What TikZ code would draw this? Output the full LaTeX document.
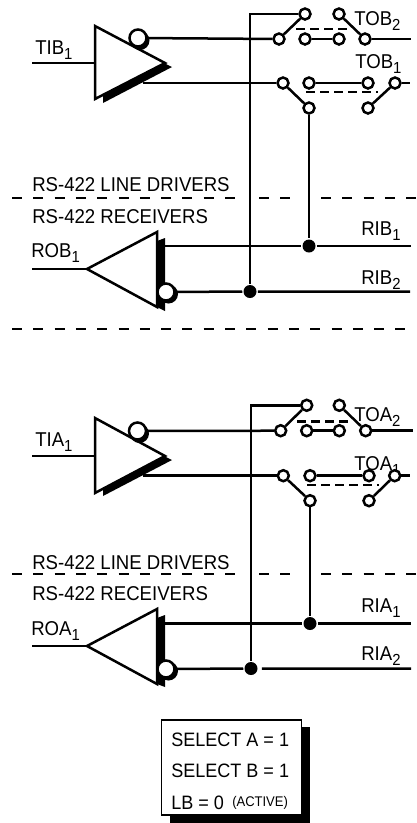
\documentclass[tikz,border=0pt]{standalone}
\usepackage{fontspec}
\setmainfont[FakeStretch=0.93]{Liberation Sans}
\usepackage{tikz}
\newcommand{\lowidx}[1]{\raisebox{-5pt}{\fontsize{16}{16}\selectfont #1}}

\begin{document}
\begin{tikzpicture}[x=1pt, y=-1pt, line width=2.5pt]
    \tikzstyle{contact}=[circle, draw=black, fill=white, line width=2.5pt, minimum size=11pt, inner sep=0pt];
    \tikzstyle{bubble}=[circle, draw=black, fill=white, line width=2.5pt, minimum size=17pt, inner sep=0pt];
    \tikzstyle{bubbleshadow}=[circle, fill=black, minimum size=19pt, inner sep=0pt];
    \tikzstyle{junction}=[circle, fill=black, minimum size=13pt, inner sep=0pt];
    \tikzstyle{label}=[anchor=base west, inner sep=0pt, font=\fontsize{20}{22}\selectfont];
    \tikzstyle{boxlabel}=[anchor=base west, inner sep=0pt, font=\fontsize{19.4}{22}\selectfont];
    \tikzstyle{divider}=[line width=1.7pt, dash pattern=on 10pt off 11.3pt];
    \tikzstyle{gang}=[line width=2.6pt, dash pattern=on 8.5pt off 5.5pt];

    \useasboundingbox (0, 0) rectangle (416, 823);

    % channel B, driver
    \coordinate (tibin) at (32, 63);
    \coordinate (tiba) at (95, 26);
    \coordinate (tibb) at (95, 99);
    \coordinate (tibc) at (165, 63);
    \coordinate (tibout) at (143, 83);
    \fill (103, 103) -- (172, 67) -- (164, 63) -- (103, 95) -- cycle;
    \draw[fill=white] (tiba) -- (tibb) -- (tibc) -- cycle;
    \draw (tibin) -- (95, 63);
    \node[bubbleshadow] (tibs) at (140, 40.5) {};
    \node[bubble] (tibn) at (138, 38) {};

    \node[label] (ltob2) at (353, 25) {TOB\lowidx{2}};
    \node[label] (ltob1) at (354, 68) {TOB\lowidx{1}};

    \node[contact] (b1) at (305, 14) {};
    \node[contact] (b2) at (339, 14) {};
    \node[contact] (b3) at (279, 39) {};
    \node[contact] (b4) at (305, 39) {};
    \node[contact] (b5) at (339, 39) {};
    \node[contact] (b6) at (365, 39) {};
    \node[contact] (b7) at (283, 83) {};
    \node[contact] (b8) at (309, 83) {};
    \node[contact] (b9) at (368, 83) {};
    \node[contact] (b10) at (395, 83) {};
    \node[contact] (b11) at (309, 108) {};
    \node[contact] (b12) at (368, 108) {};

    % channel B, receiver
    \coordinate (robin) at (32, 269);
    \coordinate (roba) at (87, 269);
    \coordinate (robb) at (157, 232);
    \coordinate (robc) at (157, 307);
    \fill (157, 241) -- (165, 238) -- (165, 311) -- (157, 307) -- cycle;
    \draw[fill=white] (roba) -- (robb) -- (robc) -- cycle;
    \draw (robin) -- (roba);
    \node[bubbleshadow] (robs) at (168.5, 294) {};
    \node[bubble] (robn) at (166, 292) {};
    \node[junction] (j1) at (309, 246) {};
    \node[junction] (j2) at (250, 291.5) {};
    \coordinate (bcorner) at (250, 14);
    \coordinate (bout1) at (411, 39);
    \coordinate (bout2) at (410, 83);
    \coordinate (rib1) at (411, 246);
    \coordinate (rib2) at (410, 291.5);

    \draw (tibn) -- (b3);
    \draw (tibout) -- (b7);
    \draw (j2) -- (bcorner) -- (b1);
    \draw (b3) -- (b1);
    \draw (b2) -- (b6);
    \draw (b4) -- (b5);
    \draw (b6) -- (bout1);
    \draw (b7) -- (b11);
    \draw (b8) -- (b9);
    \draw (b12) -- (b10);
    \draw (b10) -- (bout2);
    \draw (b11) -- (j1);
    \draw (165, 246) -- (j1) -- (rib1);
    \draw (robn) -- (j2) -- (rib2);
    \draw[gang] (296, 29) -- (350, 29);
    \draw[gang] (306, 92) -- (378, 92);

    \draw[divider] (12, 198) -- (236, 198);
    \draw[divider] (259, 198) -- (292, 198);
    \draw[divider] (321, 198) -- (416, 198);
    \draw[divider] (12, 329) -- (407, 329);

    \node[label] (ltib) at (34, 54) {TIB\lowidx{1}};
    \node[label] (ldrvb) at (31, 191.7) {RS-422 LINE DRIVERS};
    \node[label] (lrcvb) at (31, 223) {RS-422 RECEIVERS};
    \node[label] (lrob) at (30, 257.7) {ROB\lowidx{1}};
    \node[label] (lrib1) at (360, 235) {RIB\lowidx{1}};
    \node[label] (lrib2) at (360, 284) {RIB\lowidx{2}};

    % channel A, driver
    \coordinate (tiain) at (32, 456);
    \coordinate (tiaa) at (95, 418);
    \coordinate (tiab) at (95, 493);
    \coordinate (tiac) at (165, 456);
    \coordinate (tiaout) at (143, 475.7);
    \fill (103, 496) -- (172, 460) -- (164, 456) -- (103, 488) -- cycle;
    \draw[fill=white] (tiaa) -- (tiab) -- (tiac) -- cycle;
    \draw (tiain) -- (95, 456);
    \node[bubbleshadow] (tias) at (139.5, 433.5) {};
    \node[bubble] (tian) at (137.5, 431) {};

    \node[label] (ltoa2) at (353, 421.7) {TOA\lowidx{2}};
    \node[label] (ltoa1) at (353, 470) {TOA\lowidx{1}};

    \node[contact] (a1) at (306.7, 405.3) {};
    \node[contact] (a2) at (339.3, 405.3) {};
    \node[contact] (a3) at (280.7, 430.7) {};
    \node[contact] (a4) at (306.7, 430.7) {};
    \node[contact] (a5) at (339.3, 430.7) {};
    \node[contact] (a6) at (365.7, 430.7) {};
    \node[contact] (a7) at (283.3, 475.7) {};
    \node[contact] (a8) at (310, 475.7) {};
    \node[contact] (a9) at (369, 475.7) {};
    \node[contact] (a10) at (394.7, 475.7) {};
    \node[contact] (a11) at (310, 500.7) {};
    \node[contact] (a12) at (369, 500.7) {};

    % channel A, receiver
    \coordinate (roain) at (32, 646);
    \coordinate (roaa) at (87, 646);
    \coordinate (roab) at (157, 609);
    \coordinate (roac) at (157, 684);
    \fill (157, 618) -- (165, 615) -- (165, 687) -- (157, 684) -- cycle;
    \draw[fill=white] (roaa) -- (roab) -- (roac) -- cycle;
    \draw (roain) -- (roaa);
    \node[bubbleshadow] (roas) at (168.5, 671) {};
    \node[bubble] (roan) at (166, 669) {};
    \node[junction] (j3) at (310, 623.5) {};
    \node[junction] (j4) at (251, 668.5) {};
    \coordinate (acorner) at (251, 405.3);
    \coordinate (aout1) at (412.7, 430.7);
    \coordinate (aout2) at (410, 475.7);
    \coordinate (ria1) at (411, 623.5);
    \coordinate (ria2) at (411, 668.5);

    \draw (tian) -- (a3);
    \draw (tiaout) -- (a7);
    \draw (j4) -- (acorner) -- (a1);
    \draw (a3) -- (a1);
    \draw (a2) -- (a6);
    \draw (a4) -- (a5);
    \draw (a6) -- (aout1);
    \draw (a7) -- (a11);
    \draw (a8) -- (a9);
    \draw (a12) -- (a10);
    \draw (a10) -- (aout2);
    \draw (a11) -- (j3);
    \draw (165, 623.5) -- (j3) -- (ria1);
    \draw[shorten <=3pt] (roan) -- (j4) -- (ria2);
    \draw[gang] (297, 421.7) -- (351.7, 421.7);
    \draw[gang] (307, 485) -- (379, 485);

    \draw[divider] (12, 574.3) -- (236, 574.3);
    \draw[divider] (259, 574.3) -- (292, 574.3);
    \draw[divider] (321, 574.3) -- (416, 574.3);

    \node[label] (ltia) at (34, 446.7) {TIA\lowidx{1}};
    \node[label] (ldrva) at (31, 569) {RS-422 LINE DRIVERS};
    \node[label] (lrcva) at (31, 600.7) {RS-422 RECEIVERS};
    \node[label] (lroa) at (30, 635) {ROA\lowidx{1}};
    \node[label] (lria1) at (360, 612.7) {RIA\lowidx{1}};
    \node[label] (lria2) at (360, 660.7) {RIA\lowidx{2}};

    % select box
    \fill (170, 727) rectangle (310, 823);
    \draw[fill=white, line width=1.2pt] (161.7, 720) rectangle (301.7, 815);
    \node[boxlabel] (sela) at (170, 746) {SELECT A = 1};
    \node[boxlabel] (selb) at (170, 777.7) {SELECT B = 1};
    \node[boxlabel] (lb) at (170, 809.3) {LB = 0};
    \node[anchor=base west, inner sep=0pt, font=\fontsize{14}{16}\selectfont] (act) at (231, 806) {(ACTIVE)};
\end{tikzpicture}
\end{document}
